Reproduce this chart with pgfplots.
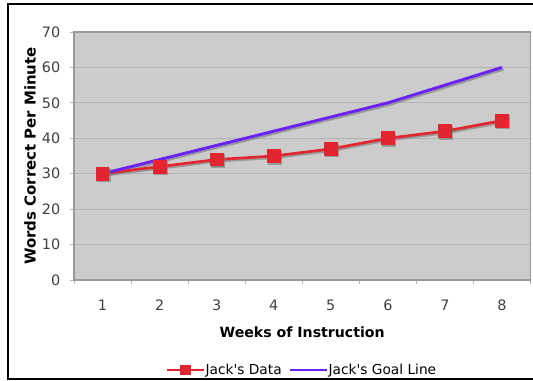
\documentclass[border=0pt]{standalone}
\usepackage{pgfplots}
\pgfplotsset{compat=1.18}
\usepackage{fontspec}
\setmainfont{DejaVu Sans}[Ligatures=ResetAll]
\definecolor{plotbg}{HTML}{CCCCCC}
\definecolor{gridc}{HTML}{B4B4B4}
\definecolor{framec}{HTML}{999999}
\definecolor{redc}{HTML}{E1262F}
\definecolor{bluec}{HTML}{6A22F5}
\definecolor{shadowc}{HTML}{777777}
\begin{document}
\begin{tikzpicture}[x=0.75pt,y=0.75pt]
\useasboundingbox (0,0) rectangle (533,381);
\draw[line width=1.6pt,black] (540,377) -- (8,377) -- (8,2) -- (540,2);
\begin{axis}[
  at={(74pt*0.75,101pt*0.75)}, anchor=south west,
  scale only axis, width=456.5*0.75pt, height=248*0.75pt,
  xmin=0.5, xmax=8.5, ymin=0, ymax=70,
  xtick={1,...,8}, minor xtick={0.5,1.5,...,8.5},
  ytick={0,10,...,70},
  major x tick style={draw=none},
  minor x tick style={draw=gridc, line width=0.6pt},
  minor tick length=4*0.75pt,
  y tick style={draw=gridc, line width=0.6pt},
  major tick length=4*0.75pt,
  tick align=outside, tick pos=left,
  ymajorgrids, grid style={gridc, line width=0.9pt},
  axis background/.style={fill=plotbg},
  axis line style={framec, line width=0.9pt},
  /pgf/number format/assume math mode=true,
  ticklabel style={font=\fontsize{10.8}{12}\selectfont, text=black!75},
  xticklabel style={yshift=-11*0.75pt},
  yticklabel style={xshift=-5*0.75pt},
  xlabel={\textbf{Weeks of Instruction}},
  ylabel={\textbf{Words Correct Per Minute}},
  xlabel style={at={(axis description cs:0.5,-0.21)}, anchor=center, font=\fontsize{10.6}{12}\selectfont},
  ylabel style={at={(axis description cs:-0.0964,0.5)}, anchor=center, font=\fontsize{11.2}{12}\selectfont},
  legend style={at={(axis description cs:0.5,-0.363)}, anchor=center, draw=none, fill=none,
    legend columns=2, font=\fontsize{10.3}{12}\selectfont,
    /tikz/every even column/.append style={column sep=3pt},
    /tikz/every odd column/.append style={column sep=-2pt}},
  legend cell align=left,
  legend image code/.code={\draw[#1] (0pt,0pt) -- (28pt,0pt) plot[mark size=3pt] coordinates {(14pt,0pt)};},
  clip=false,
]
\addplot[shadowc, opacity=0.6, line width=2.4pt, xshift=1pt, yshift=-1.2pt, forget plot]
  coordinates {(1,30) (2,34) (3,38) (4,42) (5,46) (6,50) (7,55) (8,60)};
\addplot[shadowc, opacity=0.6, line width=2pt, xshift=1pt, yshift=-1.2pt, mark=square*, mark size=4.2pt, forget plot]
  coordinates {(1,30) (2,32) (3,34) (4,35) (5,37) (6,40) (7,42) (8,45)};
\addplot[redc, line width=2pt, mark=square*, mark size=4.2pt, mark options={fill=redc, draw=redc}]
  coordinates {(1,30) (2,32) (3,34) (4,35) (5,37) (6,40) (7,42) (8,45)};
\addlegendentry{Jack\textquotesingle s Data}
\addplot[bluec, line width=2.2pt, mark=none]
  coordinates {(1,30) (2,34) (3,38) (4,42) (5,46) (6,50) (7,55) (8,60)};
\addlegendentry{Jack\textquotesingle s Goal Line}
\end{axis}
\end{tikzpicture}
\end{document}
